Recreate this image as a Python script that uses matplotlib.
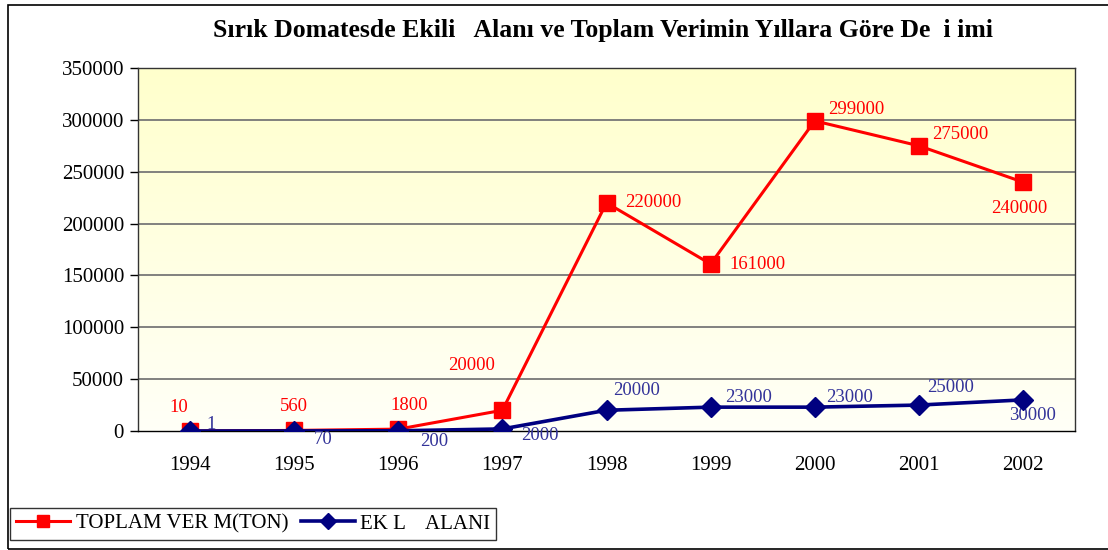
import numpy as np
import matplotlib
matplotlib.use('Agg')
import matplotlib.pyplot as plt
from matplotlib.patches import Rectangle

plt.rcParams['font.family'] = ['Liberation Serif', 'DejaVu Serif']

# data
years    = ['1994', '1995', '1996', '1997', '1998', '1999', '2000', '2001', '2002']
verim    = [10, 560, 1800, 20000, 220000, 161000, 299000, 275000, 240000]
alan     = [1, 70, 200, 2000, 20000, 23000, 23000, 25000, 30000]
y_ticks  = [0, 50000, 100000, 150000, 200000, 250000, 300000, 350000]

title = 'Sırık Domatesde Ekili   Alanı ve Toplam Verimin Yıllara Göre De  i imi'
lbl_verim = 'TOPLAM VER M(TON)'
lbl_alan  = 'EK L    ALANI'

# label offsets (points)
off_verim = [(-8, 17), (0, 17), (8, 17), (-22, 32), (34, 0), (34, 0), (30, 8), (30, 8), (-3, -19)]
off_alan  = [(15, 5), (21, -6), (26, -8), (27, -5), (22, 14), (27, 7), (25, 7), (23, 13), (7, -11)]

W, H = 1108, 550
fig = plt.figure(figsize=(W/100, H/100), dpi=100)
ax = fig.add_axes([138/W, 1-431/H, (1075-138)/W, (431-68)/H])

# gradient background
grad = np.linspace(0, 1, 256).reshape(-1, 1)
c_top = np.array([1.0, 1.0, 0.80])
c_bot = np.array([1.0, 1.0, 0.97])
img = c_top[None, None, :] * (1-grad[:, :, None]) + c_bot[None, None, :] * grad[:, :, None]
ax.imshow(img, extent=[0, 1, 0, 1], transform=ax.transAxes, aspect='auto', zorder=0)

x = np.arange(len(years))
for t in y_ticks[1:-1]:
    ax.axhline(t, color='#777777', lw=1.3, zorder=1)

ax.plot(x, verim, color='#ff0000', lw=2.2, marker='s', ms=11, mfc='#ff0000', mec='#ff0000',
        label=lbl_verim, zorder=3)
ax.plot(x, alan, color='#000080', lw=2.6, marker='D', ms=10, mfc='#000080', mec='#000080',
        label=lbl_alan, zorder=4)

for i in range(len(years)):
    ax.annotate(str(verim[i]), (x[i], verim[i]), xytext=off_verim[i], textcoords='offset points',
                ha='center', va='center', color='#ff0000', fontsize=13.5)
    ax.annotate(str(alan[i]), (x[i], alan[i]), xytext=off_alan[i], textcoords='offset points',
                ha='center', va='center', color='#333399', fontsize=13.5)

ax.set_xlim(-0.5, len(years)-0.5)
ax.set_ylim(0, 350000)
ax.set_yticks(y_ticks)
ax.set_yticklabels([str(t) for t in y_ticks], fontsize=15)
ax.set_xticks(x)
ax.set_xticklabels(years, fontsize=15)
ax.tick_params(axis='x', length=0, pad=18)
ax.tick_params(axis='y', length=6, width=1, pad=4)
for s in ax.spines.values():
    s.set_color('#333333')
    s.set_linewidth(1)
ax.spines['bottom'].set_color('black')

fig.text(603/W, 1-30/H, title, ha='center', va='center', fontsize=18.5, fontweight='bold')

leg = fig.legend(loc='lower left', bbox_to_anchor=(10/W, 1-540/H), ncol=2, fontsize=15,
                 frameon=True, fancybox=False, edgecolor='black', handlelength=2.6,
                 columnspacing=0.6, handletextpad=0.25, borderpad=0.3, borderaxespad=0,
                 markerscale=0.85)
leg.get_frame().set_linewidth(1)

fig.patches.append(Rectangle((8/W, 1-549/H), 1.2, (549-5)/H, transform=fig.transFigure,
                             fill=False, edgecolor='black', lw=1.2))

fig.savefig('out.png', dpi=100)
